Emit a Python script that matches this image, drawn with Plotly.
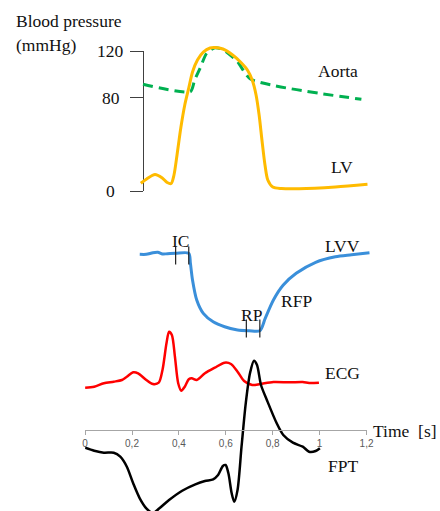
import plotly.graph_objects as go

W, H = 440, 511

# ---------------- data ----------------
# Left-ventricular pressure (mmHg) vs time (s)
LV_T = [0.2375, 0.2625, 0.298, 0.329, 0.350, 0.367, 0.379, 0.392, 0.408, 0.425,
        0.442, 0.458, 0.479, 0.504, 0.533, 0.554, 0.5875, 0.629, 0.6625, 0.692,
        0.7125, 0.729, 0.742, 0.754, 0.767, 0.779, 0.800, 0.8375, 0.9125, 1.067, 1.204]
LV_P = [6.6, 10.3, 14.1, 11.1, 7.3, 6.4, 13.7, 30.9, 54.0, 73.7,
        88.3, 102.0, 112.3, 119.1, 122.6, 123.0, 121.7, 116.6, 110.6, 103.7,
        95.1, 82.3, 65.1, 43.7, 22.3, 9.4, 3.4, 2.1, 1.9, 3.4, 5.7]

# Aortic pressure (mmHg)
AORTA_T = [0.247, 0.449, 0.467, 0.490, 0.518, 0.553, 0.5875, 0.650, 0.705, 1.178]
AORTA_P = [91.5, 85.1, 95.1, 105.2, 118.0, 122.8, 121.3, 110.8, 96.0, 78.6]

# Left-ventricular volume (mL)
LVV_T = [0.233, 0.261, 0.289, 0.310, 0.330, 0.351, 0.386, 0.442, 0.449, 0.458,
         0.476, 0.504, 0.546, 0.595, 0.650, 0.699, 0.745, 0.768, 0.803, 0.845,
         0.900, 0.983, 1.067, 1.136, 1.2125]
LVV_ML = [119.1, 119.1, 120.5, 120.9, 119.4, 119.6, 120.0, 120.0, 111.0, 95.9,
          77.8, 65.7, 58.1, 53.6, 50.6, 50.0, 50.0, 61.2, 77.8, 91.3,
          101.9, 111.9, 116.9, 118.7, 120.5]

# Phase markers on the volume curve
IC_T = [0.386, 0.442]
IC_V = [118.0, 118.0]
RP_T = [0.6875, 0.745]
RP_V = [52.0, 52.0]

# ECG (a.u.)
ECG_T = [0.0, 0.039, 0.080, 0.122, 0.157, 0.178, 0.205, 0.226, 0.261, 0.289,
         0.314, 0.330, 0.347, 0.358, 0.370, 0.383, 0.397, 0.410, 0.425, 0.442,
         0.455, 0.476, 0.511, 0.553, 0.595, 0.622, 0.650, 0.678, 0.7125, 0.747,
         0.803, 0.872, 0.928, 0.955, 0.997]
ECG_V = [0.423, 0.433, 0.467, 0.483, 0.500, 0.533, 0.577, 0.567, 0.500, 0.460,
         0.473, 0.600, 0.867, 0.983, 0.950, 0.733, 0.467, 0.393, 0.433, 0.507,
         0.517, 0.500, 0.567, 0.623, 0.673, 0.660, 0.583, 0.490, 0.450, 0.460,
         0.480, 0.477, 0.480, 0.470, 0.473]

# FPT (a.u.)
FPT_T = [0.0, 0.039, 0.080, 0.122, 0.150, 0.178, 0.205, 0.233, 0.261, 0.289,
         0.317, 0.358, 0.414, 0.470, 0.511, 0.546, 0.567, 0.5875, 0.599, 0.611,
         0.625, 0.636, 0.650, 0.667, 0.685, 0.703, 0.720, 0.733, 0.750, 0.775,
         0.817, 0.845, 0.886, 0.928, 0.955, 0.983, 1.001]
FPT_V = [-0.177, -0.207, -0.227, -0.227, -0.267, -0.367, -0.533, -0.683, -0.783, -0.830,
         -0.783, -0.700, -0.607, -0.543, -0.510, -0.493, -0.450, -0.360, -0.350, -0.433,
         -0.633, -0.717, -0.600, -0.167, 0.267, 0.567, 0.693, 0.650, 0.450, 0.300,
         0.067, -0.050, -0.127, -0.167, -0.217, -0.210, -0.183]

TIME_TICKS = [0, 0.2, 0.4, 0.6, 0.8, 1.0, 1.2]
TIME_TICK_LABELS = ["0", "0,2", "0,4", "0,6", "0,8", "1", "1,2"]
BP_TICKS = [0, 80, 120]
BP_TICK_LABELS = ["0", "80", "120"]

# ---------------- figure ----------------
SERIF = "Liberation Serif, Times New Roman, DejaVu Serif, serif"
FS = 17.5


def px(x):
    return x / W


def py(y):
    return 1 - y / H


fig = go.Figure()

# pressure curves (full-height hidden axis y4 with the same mmHg scale as the visible axis)
fig.add_trace(go.Scatter(x=AORTA_T, y=AORTA_P, xaxis="x", yaxis="y4", mode="lines",
                         line=dict(color="#00B050", width=3, dash="10px,6px", shape="spline", smoothing=0.6),
                         hoverinfo="skip"))
fig.add_trace(go.Scatter(x=LV_T, y=LV_P, xaxis="x", yaxis="y4", mode="lines",
                         line=dict(color="#FFBB00", width=3, shape="spline", smoothing=0.8),
                         hoverinfo="skip"))
# volume
fig.add_trace(go.Scatter(x=LVV_T, y=LVV_ML, xaxis="x", yaxis="y2", mode="lines",
                         line=dict(color="#3A8FDA", width=3, shape="spline", smoothing=0.8),
                         hoverinfo="skip"))
fig.add_trace(go.Scatter(x=IC_T + RP_T, y=IC_V + RP_V, xaxis="x", yaxis="y2", mode="markers",
                         marker=dict(symbol="line-ns", size=13, line=dict(width=1.2, color="#222222")),
                         hoverinfo="skip"))
# ECG and FPT on the time axis
fig.add_trace(go.Scatter(x=ECG_T, y=ECG_V, xaxis="x2", yaxis="y3", mode="lines",
                         line=dict(color="#FF0000", width=2.5, shape="spline", smoothing=0.8),
                         hoverinfo="skip"))
fig.add_trace(go.Scatter(x=FPT_T, y=FPT_V, xaxis="x2", yaxis="y3", mode="lines",
                         line=dict(color="#000000", width=2.5, shape="spline", smoothing=0.8),
                         hoverinfo="skip"))

hidden = dict(visible=False, showgrid=False, zeroline=False, fixedrange=True)

fig.update_layout(
    width=W, height=H,
    margin=dict(l=0, r=0, t=0, b=0),
    paper_bgcolor="white", plot_bgcolor="rgba(0,0,0,0)",
    showlegend=False,
    # shared time scale for the upper panels: 0 s at x=84 px, 240 px per s
    xaxis=dict(domain=[0, 1], range=[-0.35, 1.483333], **hidden),
    # visible blood-pressure axis
    yaxis=dict(domain=[py(191), py(51)], range=[0, 120], anchor="free", position=px(143),
               showline=True, linecolor="#404040", linewidth=1.2,
               ticks="outside", ticklen=13, tickcolor="#404040", tickwidth=1.2,
               tickvals=BP_TICKS, showticklabels=False,
               showgrid=False, zeroline=False, fixedrange=True),
    yaxis4=dict(domain=[0, 1], range=[-274.29, 163.71], anchor="free", position=0, **hidden),
    yaxis2=dict(domain=[0, 1], range=[-113.06, 349.09], anchor="free", position=0, **hidden),
    # time axis
    xaxis2=dict(domain=[px(84), px(372)], range=[0, 1.2], anchor="free", position=py(430),
                showline=True, linecolor="#A6A6A6", linewidth=1,
                ticks="outside", ticklen=4, tickcolor="#A6A6A6", tickwidth=1,
                tickvals=TIME_TICKS, ticktext=TIME_TICK_LABELS,
                tickfont=dict(family="Liberation Sans, Arial, sans-serif", size=10, color="#595959"),
                showgrid=False, zeroline=False, fixedrange=True),
    yaxis3=dict(domain=[0, 1], range=[-0.81, 4.30], anchor="free", position=0, **hidden),
)

annotations = []
for v, lab in zip(BP_TICKS, BP_TICK_LABELS):
    annotations.append(dict(x=px(110), y=v, xref="paper", yref="y", text=lab,
                            showarrow=False, xanchor="center", yanchor="middle",
                            font=dict(family=SERIF, size=FS, color="#111111")))

labels = [
    ("Blood pressure", 11, 21, "left"),
    ("(mmHg)", 11, 45, "left"),
    ("Aorta", 342.7, 71, "center"),
    ("LV", 346.7, 167, "center"),
    ("IC", 182, 241, "center"),
    ("LVV", 347, 246, "center"),
    ("RFP", 300, 300.5, "center"),
    ("RP", 255, 315, "center"),
    ("ECG", 347.5, 373, "center"),
    ("FPT", 347.5, 466, "center"),
    ("Time  [s]", 377, 431, "left"),
]
for text, x, y, anc in labels:
    annotations.append(dict(x=px(x), y=py(y), xref="paper", yref="paper", text=text,
                            showarrow=False, xanchor=anc, yanchor="middle",
                            font=dict(family=SERIF, size=FS, color="#111111")))
fig.update_layout(annotations=annotations)

fig.write_html("out.html")
